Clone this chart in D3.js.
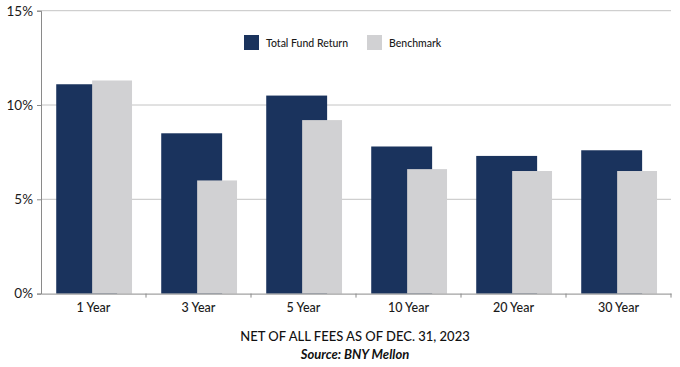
<!DOCTYPE html>
<html><head><meta charset="utf-8">
<script src="https://cdn.jsdelivr.net/npm/d3@7"></script>
<style>body{margin:0;background:#fff}svg{display:block;font-family:Lato,"Open Sans",sans-serif}</style>
</head><body>
<svg id="c" width="680" height="367"></svg>
<script>
const categories = ["1 Year","3 Year","5 Year","10 Year","20 Year","30 Year"];
const fundReturn = [11.1, 8.5, 10.5, 7.8, 7.3, 7.6];
const benchmark = [11.3, 6.0, 9.2, 6.6, 6.5, 6.5];
const yTicks = [0, 5, 10, 15];
const seriesNames = ["Total Fund Return","Benchmark"];
const colors = ["#1a335d","#d1d1d3"];

(function(){
const svg = d3.select("#c");
const mLeft = 41, mRight = 671, mTop = 10.7, mBottom = 293.6;
const x = d3.scaleBand().domain(categories).range([mLeft, mRight]).padding(0);
const y = d3.scaleLinear().domain([0, 15]).range([mBottom, mTop]);

svg.append("g").selectAll("line").data(yTicks.filter(d=>d>0)).join("line")
  .attr("x1", mLeft).attr("x2", mRight).attr("y1", d=>y(d)).attr("y2", d=>y(d))
  .attr("stroke", "#c4c4c4").attr("stroke-width", 1);

const bw = x.bandwidth();
svg.append("g").selectAll("rect").data(categories).join("rect")
  .attr("x", d=>x(d)+bw*0.145).attr("width", bw*0.58)
  .attr("y", (d,i)=>y(fundReturn[i])).attr("height", (d,i)=>y(0)-y(fundReturn[i]))
  .attr("fill", colors[0]);
svg.append("g").selectAll("rect").data(categories).join("rect")
  .attr("x", d=>x(d)+bw*0.487).attr("width", bw*0.38)
  .attr("y", (d,i)=>y(benchmark[i])).attr("height", (d,i)=>y(0)-y(benchmark[i]))
  .attr("fill", colors[1]);

const ya = svg.append("g").attr("transform", `translate(${mLeft},0)`)
  .call(d3.axisLeft(y).tickValues(yTicks).tickFormat(d=>d+"%").tickSize(4).tickPadding(4));
ya.select(".domain").attr("stroke", "#8a8a8a");
ya.selectAll(".tick line").attr("stroke", "#8a8a8a");
ya.selectAll("text").attr("font-size", 13.5).attr("fill", "#1a1a1a").attr("font-family","Lato");

const xa = svg.append("g").attr("transform", `translate(0,${mBottom})`)
  .call(d3.axisBottom(x).tickSize(0).tickPadding(10));
xa.select(".domain").attr("stroke", "#8a8a8a");
xa.selectAll("text").attr("font-size", 12.5).attr("fill", "#1a1a1a").attr("font-family","Lato").attr("font-weight", 500);
const bounds = categories.slice(1).map(d=>x(d)).concat([mRight]);
svg.append("g").selectAll("line").data(bounds).join("line")
  .attr("x1", d=>d).attr("x2", d=>d)
  .attr("y1", mBottom).attr("y2", mBottom+4).attr("stroke", "#8a8a8a");

const lg = svg.append("g");
const lx = [244, 367];
seriesNames.forEach((n,i)=>{
  lg.append("rect").attr("x", lx[i]).attr("y", 35).attr("width", 15).attr("height", 15).attr("fill", colors[i]);
  lg.append("text").attr("x", lx[i]+22).attr("y", 47).attr("font-size", 10.5).attr("font-weight", 500).attr("fill","#1a1a1a").text(n);
});

svg.append("text").attr("x", 355).attr("y", 341).attr("text-anchor","middle")
  .attr("font-size", 13).attr("font-weight", 500).attr("fill","#111").text("NET OF ALL FEES AS OF DEC. 31, 2023");
svg.append("text").attr("x", 355).attr("y", 359).attr("text-anchor","middle")
  .attr("font-size", 13).attr("font-weight","bold").attr("font-style","italic").attr("fill","#111").text("Source: BNY Mellon");
})();
</script>
</body></html>
